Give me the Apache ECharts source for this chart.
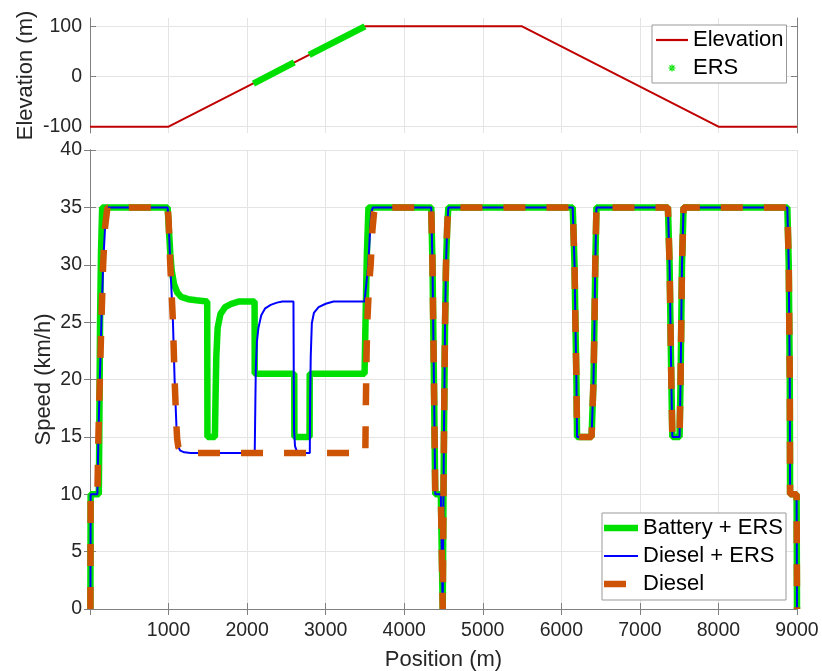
<!DOCTYPE html>
<html><head><meta charset="utf-8">
<script src="https://cdn.jsdelivr.net/npm/echarts@6/dist/echarts.min.js"></script>
<style>html,body{margin:0;padding:0;background:#fff}#c{width:822px;height:671px}</style>
</head><body><div id="c"></div>
<script>
// ---- data ----
const elevTicks = [-100, 0, 100];
const elevation = [[0,-100],[1000,-100],[3500,100],[5500,100],[8000,-100],[9000,-100]];
const ersSegmentA = [[2080,-14],[2600,28]];
const ersSegmentB = [[2790,43],[3500,100]];

const batteryErsHead = [[5,0],[8,10],[112,10],[118,15],[128,25],[140,31],[155,35],[988,35],[1005,33],[1022,31],[1040,29.5],[1070,28.3],[1110,27.6],[1160,27.2],[1250,27.0],[1350,26.9],[1492,26.8],[1495,15],[1590,15],[1597,18],[1608,22],[1625,24.5],[1660,25.7],[1720,26.3],[1800,26.6],[1900,26.8],[2095,26.8],[2097,20.5],[2600,20.5],[2602,15],[2795,15],[2797,20.5],[3495,20.5],[3510,26],[3525,31],[3545,35]];
const dieselStart = [[5,0],[8,10],[94,10],[107,15],[125,20],[145,25],[167,30],[192,33.3],[222,35],[988,35],[1000,34],[1022,30],[1056,25],[1077,20],[1100,16],[1110,14.8],[1125,14.1],[1150,13.8],[1200,13.65],[1280,13.6]];
const dieselErsMiddle = [[2097,13.6],[2105,18],[2111,21],[2125,23.3],[2144,24.5],[2180,25.6],[2230,26.2],[2300,26.5],[2380,26.7],[2450,26.8],[2590,26.8],[2594,20],[2598,15.5],[2610,14.2],[2630,13.8],[2660,13.65],[2700,13.6],[2798,13.6],[2802,18],[2810,22],[2824,24.9],[2850,25.8],[2910,26.3],[3000,26.6],[3100,26.8],[3495,26.8],[3520,28.5],[3543,30],[3565,33],[3580,34.5],[3600,35]];
const dieselMiddle = [[3505,13.6],[3510,17],[3520,22],[3530,25],[3550,28],[3573,30],[3595,33],[3615,34.5],[3635,35]];
const sharedTail = [[4344,35],[4360,30],[4378,20],[4395,10],[4466,10],[4490,0],[4496,0],[4500,10],[4507,16],[4520,25],[4532,30],[4548,33.5],[4562,35],
  [6145,35],[6168,30],[6179,25],[6192,20],[6200,15],[6385,15],[6410,20],[6422,25],[6432,30],[6447,35],
  [7357,35],[7378,30],[7400,20],[7413,15],[7505,15],[7518,20],[7536,30],[7556,35],
  [8877,35],[8895,30],[8908,20],[8912,10],[8995,10],[9000,0]];

const batteryErs = batteryErsHead.concat(sharedTail);
const dieselErs = dieselStart.concat(dieselErsMiddle, sharedTail);
const diesel = dieselStart.concat(dieselMiddle, sharedTail);

// ---- style ----
const FONT = 'Liberation Sans, Arial, Helvetica, sans-serif';
const AX = '#808080', GRID = '#e4e4e4', TXT = '#262626';
const GREEN = '#00e000', BLUE = '#0000ff', ORANGE = '#cd5305', RED = '#c00000';

const asterisk = 'path://M-16,-7h0.02v0.02h-0.02Z M15.98,6.98h0.02v0.02h-0.02Z ' +
  'M-3.5,-0.6L3.5,-0.6L3.5,0.6L-3.5,0.6Z M-0.6,-3.5L0.6,-3.5L0.6,3.5L-0.6,3.5Z ' +
  'M-2.9,-2.05L2.05,2.9L2.9,2.05L-2.05,-2.9Z M2.05,-2.9L2.9,-2.05L-2.05,2.9L-2.9,2.05Z';
const dashIcon = 'path://M0,-3.25H22V3.25H0Z M33.98,-7h0.02v0.02h-0.02Z M0,6.98h0.02v0.02h-0.02Z';

const chart = echarts.init(document.getElementById('c'));
const tickInside = {show:true, inside:true, length:6, lineStyle:{color:AX}};
const legendText = {fontSize:22, lineHeight:26, color:'#000', fontFamily:FONT};
const nameStyle = {fontSize:22, color:TXT, fontFamily:FONT};

chart.setOption({
  backgroundColor:'#fff',
  animation:false,
  grid:[{left:90, right:25, top:18, height:115, outerBoundsMode:'none', containLabel:false},
        {left:90, right:25, top:150, height:459, outerBoundsMode:'none', containLabel:false}],
  xAxis:[
    {gridIndex:0, type:'value', min:0, max:9000, interval:1000,
     axisLine:{show:false}, axisTick:{show:false}, axisLabel:{show:false},
     splitLine:{show:true, lineStyle:{color:GRID}}},
    {gridIndex:1, type:'value', position:'bottom', min:0, max:9000, interval:1000,
     axisLine:{show:true, lineStyle:{color:AX}}, axisTick:tickInside,
     axisLabel:{fontSize:19.5, color:TXT, fontFamily:FONT, margin:12, formatter:v => v === 0 ? '' : String(v)},
     splitLine:{show:true, lineStyle:{color:GRID}},
     name:'Position (m)', nameLocation:'middle', nameGap:40, nameMoveOverlap:false,
     nameTextStyle:nameStyle},
    {gridIndex:1, type:'value', position:'top', min:0, max:9000, interval:1000,
     axisLine:{show:true, lineStyle:{color:AX}}, axisTick:tickInside,
     axisLabel:{show:false}, splitLine:{show:false}}
  ],
  yAxis:[
    {gridIndex:0, type:'value', position:'left', min:-112.5, max:116.5,
     axisLine:{show:true, lineStyle:{color:AX}},
     axisTick:Object.assign({customValues:elevTicks}, tickInside),
     axisLabel:{customValues:elevTicks, fontSize:19.5, color:TXT, fontFamily:FONT, margin:8},
     splitLine:{show:true, lineStyle:{color:GRID}},
     name:'Elevation (m)', nameLocation:'middle', nameGap:53, nameMoveOverlap:false,
     nameTextStyle:nameStyle},
    {gridIndex:0, type:'value', position:'right', min:-112.5, max:116.5,
     axisLine:{show:true, lineStyle:{color:AX}},
     axisTick:Object.assign({customValues:elevTicks}, tickInside),
     axisLabel:{show:false}, splitLine:{show:false}},
    {gridIndex:1, type:'value', position:'left', min:0, max:40, interval:5,
     axisLine:{show:true, lineStyle:{color:AX}}, axisTick:tickInside,
     axisLabel:{fontSize:19.5, color:TXT, fontFamily:FONT, margin:8},
     splitLine:{show:true, lineStyle:{color:GRID}},
     name:'Speed (km/h)', nameLocation:'middle', nameGap:35, nameMoveOverlap:false,
     nameTextStyle:nameStyle},
    {gridIndex:1, type:'value', position:'right', min:0, max:40, interval:5,
     axisLine:{show:true, lineStyle:{color:AX}}, axisTick:tickInside,
     axisLabel:{show:false}, splitLine:{show:false}}
  ],
  legend:[
    {orient:'vertical', left:652, top:25, itemWidth:32, itemHeight:14, itemGap:2,
     padding:[2,3,2,4], borderColor:'#999', borderWidth:1, backgroundColor:'#fff',
     selectedMode:false, textStyle:legendText,
     data:[{name:'Elevation', icon:'path://M0,0H32V2.2H0Z'},{name:'ERS', icon:asterisk}]},
    {orient:'vertical', left:602, top:513, itemWidth:34, itemHeight:14, itemGap:2,
     padding:[2,3,3,2], borderColor:'#999', borderWidth:1, backgroundColor:'#fff',
     selectedMode:false, textStyle:legendText,
     data:[{name:'Battery + ERS', icon:'path://M0,0H34V6.5H0Z'},
           {name:'Diesel + ERS', icon:'path://M0,0H34V2.2H0Z'},
           {name:'Diesel', icon:dashIcon}]}
  ],
  series:[
    {name:'Elevation', type:'line', xAxisIndex:0, yAxisIndex:0, data:elevation, symbol:'none', clip:false,
     itemStyle:{color:RED}, lineStyle:{color:RED, width:2}},
    {name:'ERS', type:'line', xAxisIndex:0, yAxisIndex:0, data:ersSegmentA, symbol:'none', clip:false,
     itemStyle:{color:GREEN}, lineStyle:{color:GREEN, width:6.5, cap:'butt'}},
    {name:'ERS', type:'line', xAxisIndex:0, yAxisIndex:0, data:ersSegmentB, symbol:'none', clip:false,
     itemStyle:{color:GREEN}, lineStyle:{color:GREEN, width:6.5, cap:'butt'}},
    {name:'Battery + ERS', type:'line', xAxisIndex:1, yAxisIndex:2, data:batteryErs, symbol:'none', clip:false,
     itemStyle:{color:GREEN}, lineStyle:{color:GREEN, width:6.5}},
    {name:'Diesel + ERS', type:'line', xAxisIndex:1, yAxisIndex:2, data:dieselErs, symbol:'none', clip:false,
     itemStyle:{color:BLUE}, lineStyle:{color:BLUE, width:2}},
    {name:'Diesel', type:'line', xAxisIndex:1, yAxisIndex:2, data:diesel, symbol:'none', clip:false,
     itemStyle:{color:ORANGE}, lineStyle:{color:ORANGE, width:6.5, type:[22,21], cap:'butt'}}
  ]
});
</script></body></html>
